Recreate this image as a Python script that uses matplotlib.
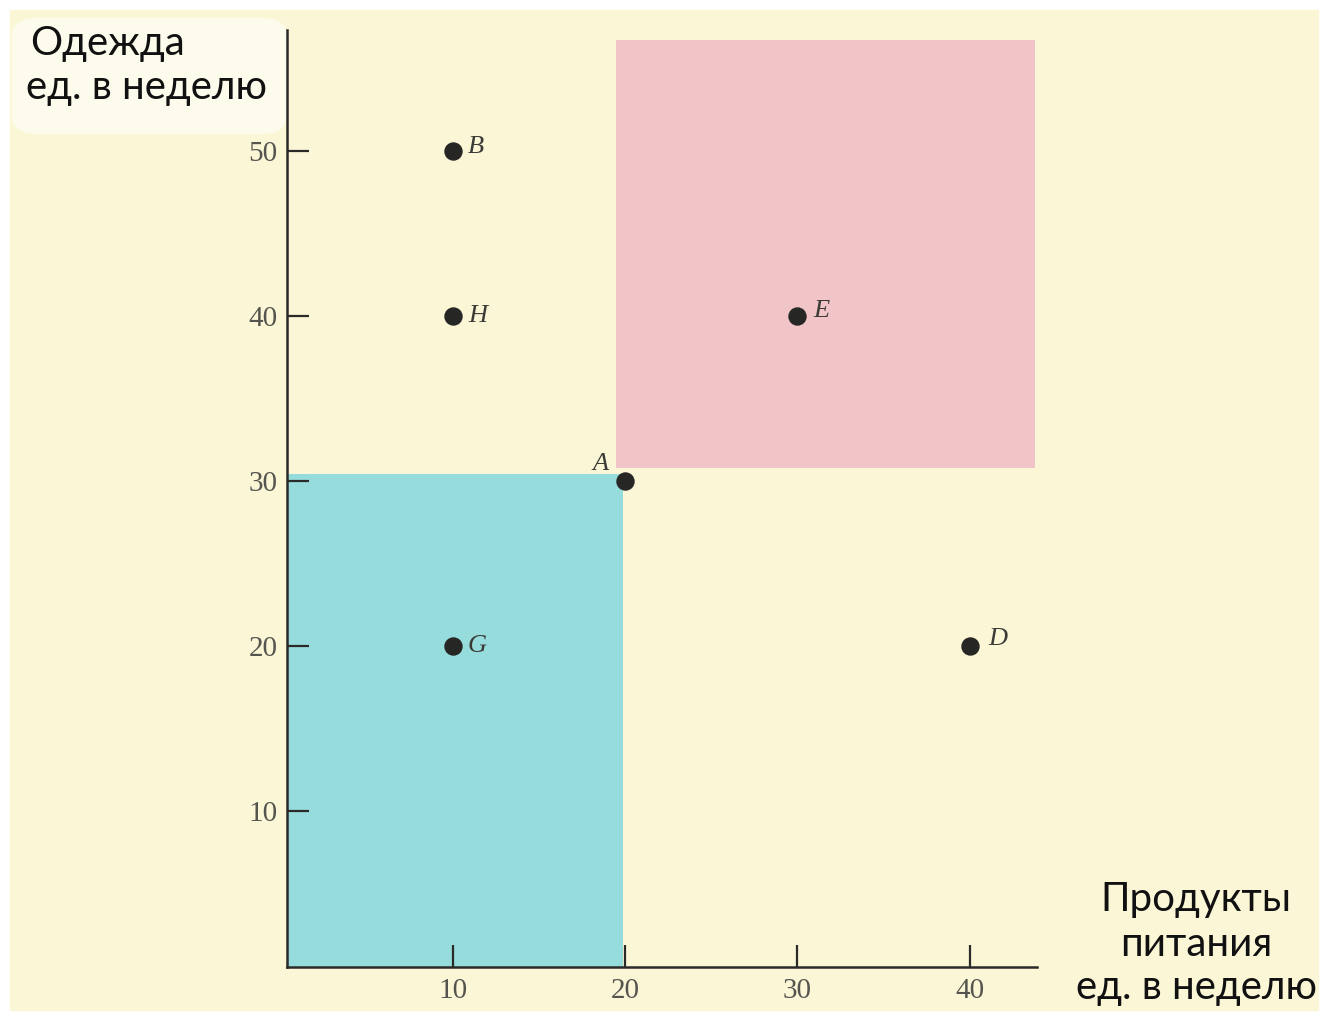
import matplotlib.pyplot as plt
from matplotlib.patches import Rectangle, FancyBboxPatch

# points on the chart (food, clothing)
point_names = ["B", "H", "E", "A", "G", "D"]
food = [10, 10, 30, 20, 10, 40]
clothes = [50, 40, 40, 30, 20, 20]
label_dx = [0.9, 0.9, 0.9, -1.9, 0.9, 1.1]
label_dy = [0.2, 0.0, 0.3, 1.0, 0.0, 0.4]

# shaded regions around A: (x0, y0, x1, y1)
worse_box = [0.4, 0.55, 19.9, 30.4]
better_box = [19.5, 30.8, 43.8, 56.7]

xticks = [10, 20, 30, 40]
yticks = [10, 20, 30, 40, 50]

cream = "#fbf6d6"
fig = plt.figure(figsize=(13.23, 10.16), dpi=100)
fig.patch.set_facecolor("white")
fig.patches.append(Rectangle((10 / 1323, 6 / 1016), 1308 / 1323, 1000 / 1016,
                             transform=fig.transFigure, color=cream, zorder=-2))
fig.patches.append(FancyBboxPatch((22 / 1323, 890 / 1016), 255 / 1323, 100 / 1016,
                                  boxstyle="round,pad=0.008,rounding_size=0.02",
                                  transform=fig.transFigure, color="#fdfbec", lw=0, zorder=-1))

ax = fig.add_axes([287 / 1323, 49 / 1016, 750 / 1323, 937 / 1016])
ax.set_facecolor("none")
ax.set_xlim(0.4, 43.9)
ax.set_ylim(0.55, 57.3)

ax.add_patch(Rectangle((worse_box[0], worse_box[1]), worse_box[2] - worse_box[0],
                       worse_box[3] - worse_box[1], color="#97dcdc", lw=0, zorder=1,
                       clip_on=False))
ax.add_patch(Rectangle((better_box[0], better_box[1]), better_box[2] - better_box[0],
                       better_box[3] - better_box[1], color="#f1c5c8", lw=0, zorder=1,
                       clip_on=False))

ax.scatter(food, clothes, s=150, color="#262624", zorder=3, clip_on=False)
for name, x, y, dx, dy in zip(point_names, food, clothes, label_dx, label_dy):
    ax.text(x + dx, y + dy, name, fontsize=19, style="italic", family="Liberation Serif",
            color="#3a3a36", va="center", ha="left", zorder=4)

for side in ["top", "right"]:
    ax.spines[side].set_visible(False)
for side in ["left", "bottom"]:
    ax.spines[side].set_linewidth(1.8)
    ax.spines[side].set_color("#2a2a28")

ax.set_xticks(xticks)
ax.set_yticks(yticks)
ax.tick_params(direction="in", length=16, width=1.6, color="#2a2a28",
               labelsize=21, labelcolor="#555550")
ax.tick_params(axis="x", pad=8)
ax.tick_params(axis="y", pad=7)
for lbl in ax.get_xticklabels() + ax.get_yticklabels():
    lbl.set_family("Liberation Serif")

# axis titles
title_kw = dict(fontsize=29, family="Lato", va="center", color="#111111")
fig.text(30 / 1323, 973 / 1016, "Одежда", ha="left", **title_kw)
fig.text(26 / 1323, 928 / 1016, "ед. в неделю", ha="left", **title_kw)
fig.text(1196 / 1323, 116 / 1016, "Продукты", ha="center", **title_kw)
fig.text(1196 / 1323, 72 / 1016, "питания", ha="center", **title_kw)
fig.text(1196 / 1323, 29 / 1016, "ед. в неделю", ha="center", **title_kw)

fig.savefig("out.png", dpi=100, facecolor=fig.get_facecolor())
